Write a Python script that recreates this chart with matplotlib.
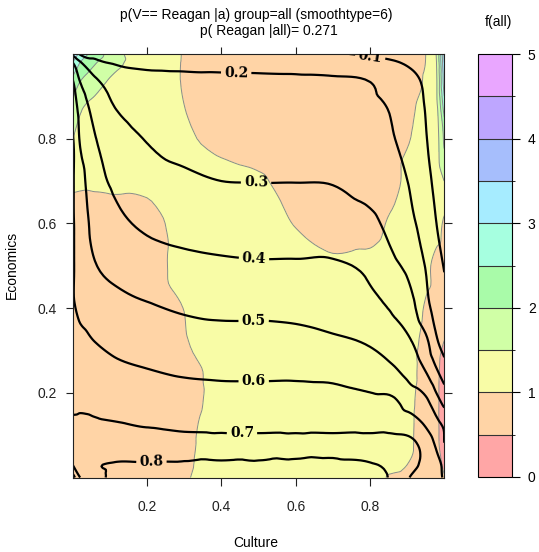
import numpy as np
import matplotlib
matplotlib.use('Agg')
import matplotlib.pyplot as plt
import matplotlib.tri as mtri
from matplotlib.colors import ListedColormap, BoundaryNorm
from matplotlib.cm import ScalarMappable

plt.rcParams['font.family'] = ['Liberation Sans', 'DejaVu Sans']

# grid
culture = [0, 0.02, 0.06, 0.12, 0.2, 0.3, 0.4, 0.5, 0.6, 0.7, 0.8, 0.86, 0.91, 0.95, 0.98, 1.0]
economics = [0, 0.03, 0.07, 0.12, 0.18, 0.25, 0.32, 0.40, 0.50, 0.60, 0.70, 0.80, 0.88, 0.94, 0.98, 1.0]

# p(V == Reagan | a), one row per economics value
p_reagan = [
    [0.95, 0.80, 0.79, 0.81, 0.815, 0.82, 0.82, 0.82, 0.82, 0.815, 0.81, 0.79, 0.695, 0.65, 0.615, 0.595],
    [0.80, 0.77, 0.795, 0.805, 0.805, 0.805, 0.805, 0.805, 0.807, 0.808, 0.803, 0.785, 0.73, 0.67, 0.62, 0.585],
    [0.76, 0.76, 0.76, 0.765, 0.77, 0.775, 0.778, 0.778, 0.778, 0.778, 0.77, 0.76, 0.735, 0.665, 0.59, 0.51],
    [0.72, 0.72, 0.715, 0.71, 0.698, 0.68, 0.672, 0.67, 0.67, 0.67, 0.672, 0.672, 0.655, 0.598, 0.535, 0.49],
    [0.68, 0.685, 0.68, 0.665, 0.652, 0.64, 0.632, 0.63, 0.63, 0.628, 0.62, 0.615, 0.555, 0.52, 0.43, 0.37],
    [0.65, 0.65, 0.64, 0.62, 0.605, 0.59, 0.585, 0.585, 0.585, 0.58, 0.555, 0.52, 0.46, 0.40, 0.31, 0.25],
    [0.625, 0.62, 0.60, 0.575, 0.555, 0.54, 0.535, 0.535, 0.53, 0.515, 0.49, 0.445, 0.405, 0.325, 0.21, 0.16],
    [0.61, 0.585, 0.56, 0.535, 0.51, 0.49, 0.48, 0.48, 0.475, 0.46, 0.425, 0.39, 0.33, 0.225, 0.17, 0.13],
    [0.61, 0.56, 0.505, 0.465, 0.44, 0.425, 0.415, 0.41, 0.41, 0.41, 0.38, 0.32, 0.27, 0.195, 0.13, 0.095],
    [0.61, 0.555, 0.47, 0.42, 0.385, 0.365, 0.355, 0.35, 0.35, 0.345, 0.32, 0.27, 0.215, 0.165, 0.098, 0.07],
    [0.61, 0.54, 0.44, 0.38, 0.335, 0.315, 0.30, 0.298, 0.298, 0.295, 0.265, 0.235, 0.19, 0.13, 0.075, 0.055],
    [0.61, 0.49, 0.405, 0.345, 0.295, 0.27, 0.255, 0.25, 0.245, 0.24, 0.225, 0.205, 0.16, 0.105, 0.06, 0.04],
    [0.56, 0.46, 0.365, 0.29, 0.245, 0.23, 0.225, 0.22, 0.215, 0.215, 0.212, 0.19, 0.14, 0.095, 0.055, 0.035],
    [0.50, 0.39, 0.31, 0.25, 0.222, 0.215, 0.212, 0.21, 0.208, 0.206, 0.196, 0.16, 0.12, 0.085, 0.05, 0.03],
    [0.40, 0.31, 0.22, 0.19, 0.18, 0.178, 0.176, 0.174, 0.17, 0.16, 0.14, 0.11, 0.085, 0.06, 0.04, 0.025],
    [0.28, 0.19, 0.175, 0.165, 0.16, 0.155, 0.15, 0.145, 0.13, 0.11, 0.085, 0.07, 0.055, 0.045, 0.03, 0.02],
]

# f(all) density, same grid
f_all = [
    [0.80, 0.80, 0.82, 0.85, 0.90, 0.96, 1.25, 1.25, 1.22, 1.20, 1.20, 0.94, 0.85, 0.78, 0.68, 0.52],
    [0.78, 0.79, 0.81, 0.84, 0.88, 0.929, 1.25, 1.25, 1.22, 1.20, 1.18, 1.12, 0.9625, 0.80, 0.62, 0.44],
    [0.77, 0.78, 0.80, 0.83, 0.86, 0.903, 1.25, 1.25, 1.22, 1.20, 1.17, 1.12, 1.036, 0.76, 0.57, 0.34],
    [0.76, 0.77, 0.79, 0.82, 0.85, 0.877, 1.25, 1.25, 1.22, 1.20, 1.16, 1.10, 1.044, 0.76, 0.56, 0.31],
    [0.76, 0.77, 0.78, 0.80, 0.82, 0.80, 1.20, 1.25, 1.22, 1.20, 1.16, 1.10, 1.0625, 0.76, 0.56, 0.31],
    [0.76, 0.77, 0.78, 0.80, 0.82, 0.80, 1.20, 1.25, 1.22, 1.20, 1.18, 1.15, 1.135, 0.76, 0.57, 0.34],
    [0.78, 0.79, 0.80, 0.83, 0.88, 0.972, 1.25, 1.25, 1.22, 1.20, 1.20, 1.22, 1.25, 0.76, 0.63, 0.49],
    [0.78, 0.79, 0.80, 0.82, 0.85, 1.006, 1.25, 1.25, 1.22, 1.20, 1.20, 1.22, 1.25, 0.956, 0.85, 0.75],
    [0.78, 0.79, 0.80, 0.82, 0.85, 1.128, 1.25, 1.20, 1.12, 1.05, 1.10, 1.20, 1.22, 1.115, 0.85, 0.80],
    [0.80, 0.80, 0.82, 0.84, 0.85, 1.1625, 1.25, 1.15, 0.987, 0.88, 0.85, 1.075, 1.20, 1.25, 1.20, 0.914],
    [1.10, 1.07, 1.06, 1.07, 1.08, 1.15, 1.15, 1.05, 0.85, 0.80, 0.80, 0.85, 1.176, 1.25, 1.30, 1.50],
    [1.50, 1.35, 1.22, 1.15, 1.10, 1.05, 0.883, 0.80, 0.75, 0.78, 0.80, 0.85, 1.003, 1.10, 1.35, 2.10],
    [1.90, 1.60, 1.40, 1.27, 1.20, 1.00, 0.85, 0.75, 0.70, 0.72, 0.78, 0.84, 0.90, 1.25, 1.45, 2.80],
    [2.40, 2.05, 1.75, 1.38, 1.22, 0.978, 0.80, 0.72, 0.68, 0.70, 0.75, 0.80, 0.85, 1.072, 1.50, 3.30],
    [3.00, 2.50, 2.05, 1.60, 1.25, 0.978, 0.80, 0.72, 0.68, 0.70, 0.75, 0.80, 0.85, 1.008, 1.55, 3.50],
    [3.50, 2.85, 2.30, 1.62, 1.30, 0.98, 0.80, 0.72, 0.68, 0.70, 0.75, 0.80, 0.85, 1.00, 1.60, 3.60],
]

f_levels = [0, 0.5, 1, 1.5, 2, 2.5, 3, 3.5, 4, 4.5, 5]
f_colors = ['#ffa6a6', '#ffd4a6', '#f8fca6', '#d0ffa6', '#a9fba9',
            '#a6ffe0', '#a6ecff', '#a6befc', '#bea6ff', '#e9a6ff']
p_levels = [0.1, 0.2, 0.3, 0.4, 0.5, 0.6, 0.7, 0.8, 0.9]
label_pos = [(0.80, 0.99), (0.44, 0.958), (0.493, 0.686), (0.488, 0.52),
             (0.487, 0.367), (0.487, 0.223), (0.455, 0.093), (0.212, 0.034)]

X, Y = np.meshgrid(culture, economics)
tri = mtri.Triangulation(X.ravel(), Y.ravel())
refiner = mtri.UniformTriRefiner(tri)

fz = np.array(f_all).ravel()
pz = np.array(p_reagan).ravel()
tri_f, f_fine = refiner.refine_field(fz, mtri.CubicTriInterpolator(tri, fz, kind='geom'), subdiv=3)
tri_p, p_fine = refiner.refine_field(pz, mtri.CubicTriInterpolator(tri, pz, kind='geom'), subdiv=3)

cmap = ListedColormap(f_colors)
norm = BoundaryNorm(f_levels, cmap.N)

fig = plt.figure(figsize=(5.39, 5.52), dpi=100)
ax = fig.add_axes([72.7 / 539, (552 - 477.5) / 552, (444.3 - 72.7) / 539, (477.5 - 54) / 552])
cax = fig.add_axes([478 / 539, (552 - 477) / 552, 34 / 539, 423 / 552])

ax.tricontourf(tri_f, f_fine, levels=f_levels, cmap=cmap, norm=norm)
ax.tricontour(tri_f, f_fine, levels=f_levels[1:-1], colors='#8a8a8a', linewidths=0.7)
cs = ax.tricontour(tri_p, p_fine, levels=p_levels, colors='black', linewidths=1.6)
labels = ax.clabel(cs, fmt='%.1f', manual=label_pos, inline=True, inline_spacing=5, fontsize=10.5)
for t in labels:
    t.set_fontfamily('DejaVu Serif')
    t.set_fontweight('bold')
    t.set_fontsize(10)

ax.set_xlim(0, 1)
ax.set_ylim(0, 1)
ax.set_xticks([0.2, 0.4, 0.6, 0.8])
ax.set_yticks([0.2, 0.4, 0.6, 0.8])
ax.tick_params(direction='out', length=5.4, width=0.8, labelsize=10,
               top=True, right=True, colors='#222222')
ax.tick_params(axis='x', pad=11)
ax.tick_params(axis='y', pad=6)
for s in ax.spines.values():
    s.set_linewidth(0.8)
    s.set_color('#222222')

fig.text(12 / 539, 1 - 265 / 552, 'Economics', rotation=90, ha='center', va='center', fontsize=10)
fig.text(256 / 539, 1 - 543 / 552, 'Culture', ha='center', va='center', fontsize=10)
fig.text(256.5 / 539, 1 - 15.5 / 552, 'p(V== Reagan |a) group=all (smoothtype=6)',
         ha='center', va='center', fontsize=10)
fig.text(269 / 539, 1 - 31.5 / 552, 'p( Reagan |all)= 0.271', ha='center', va='center', fontsize=10)
fig.text(498 / 539, 1 - 22 / 552, 'f(all)', ha='center', va='center', fontsize=10)

cb = fig.colorbar(ScalarMappable(norm=norm, cmap=cmap), cax=cax, ticks=[0, 1, 2, 3, 4, 5],
                  drawedges=True)
cb.dividers.set_color('#333333')
cb.dividers.set_linewidth(0.8)
cb.outline.set_linewidth(0.8)
cb.ax.tick_params(length=5.4, width=0.8, pad=6, labelsize=10)

fig.savefig('out.png', dpi=100)
